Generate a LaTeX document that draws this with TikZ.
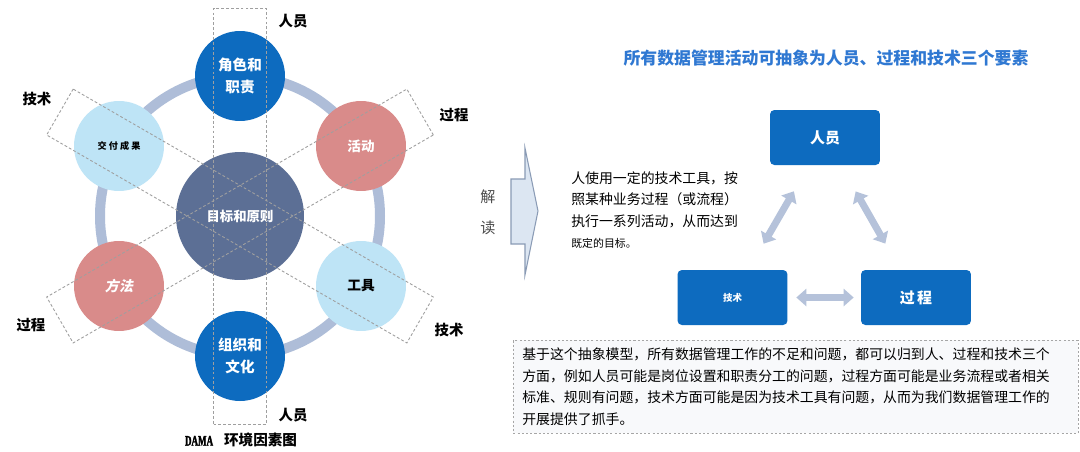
\documentclass[tikz,border=0pt]{standalone}
\usepackage{fontspec}
\setmainfont{Noto Sans CJK SC}
\newfontfamily\slantfont[FakeSlant=0.2]{Noto Sans CJK SC}
\newfontfamily\narrowserif[FakeStretch=0.62,FakeBold=2]{Liberation Serif Bold}
\usepackage{tikz}
\usetikzlibrary{positioning,calc,arrows.meta}

\definecolor{deepblue}{HTML}{0D6BBF}
\definecolor{slateblue}{HTML}{5C6F95}
\definecolor{rosered}{HTML}{D98B8A}
\definecolor{paleblue}{HTML}{BEE4F6}
\definecolor{ringgray}{HTML}{AEBDD8}
\definecolor{titleblue}{HTML}{2F78D2}
\definecolor{arrowgray}{HTML}{B5C2DA}
\definecolor{arrowfill}{HTML}{DCE6F2}
\definecolor{arrowedge}{HTML}{8A9BB5}
\definecolor{notefill}{HTML}{F8F9FB}

\newcommand{\setpt}[2]{\fontsize{#1pt}{#2pt}\selectfont}

\begin{document}
\begin{tikzpicture}[x=0.02cm, y=-0.02cm,
  ball/.style={circle, minimum size=1.8cm, inner sep=0pt, align=center, font=\bfseries\setpt{8.3}{12.5}},
  bandbox/.style={draw=gray!75, dash pattern=on 1.6pt off 1.2pt, line width=0.5pt, minimum width=1.06cm, minimum height=8.32cm, inner sep=0pt},
  tag/.style={font=\bfseries\setpt{8.2}{9}},
  rolebox/.style={fill=deepblue, rounded corners=2.5pt, minimum width=2.2cm, minimum height=1.1cm, text=white, font=\bfseries\setpt{8.5}{9}},
  twoway/.style={draw=arrowgray, line width=0.14cm, {Triangle[width=0.34cm,length=0.2cm]}-{Triangle[width=0.34cm,length=0.2cm]}}]
  \useasboundingbox[fill=white] (0,0) rectangle (1080,451);

  \coordinate (hub) at (240,216);
  \draw[ringgray, line width=0.2cm] (hub) circle (140);
  \node[ball, minimum size=2.56cm, fill=slateblue, text=white, font=\bfseries\setpt{7.6}{9}] (goal) at (hub) {目标和原则};
  \node[ball, fill=deepblue, text=white] (roles) at (240,76) {角色和\\职责};
  \node[ball, fill=rosered, text=white, font=\bfseries\setpt{7.7}{9}] (acts) at (361,146) {活动};
  \node[ball, fill=paleblue, font=\bfseries\setpt{7.8}{9}] (tools) at (361,286) {工具};
  \node[ball, fill=deepblue, text=white] (culture) at (240,356) {组织和\\文化};
  \node[ball, fill=rosered, text=white, font=\slantfont\bfseries\setpt{8}{9}] (ways) at (119,286) {方法};
  \node[ball, fill=paleblue, font=\bfseries\setpt{5.2}{6}] (deliv) at (119,146) {交\ 付\ 成\ 果};

  \node[bandbox] (bandP) at (hub) {};
  \node[bandbox, rotate=60] (bandT) at (hub) {};
  \node[bandbox, rotate=-60] (bandQ) at (hub) {};

  \node[tag] (topP) at (293,21) {人员};
  \node[tag] (botP) at (293,415) {人员};
  \node[tag] (topT) at (37,99) {技术};
  \node[tag] (botT) at (449,330) {技术};
  \node[tag] (topQ) at (454,115) {过程};
  \node[tag] (botQ) at (31,325) {过程};
  \node[font=\bfseries\setpt{8.3}{9}] (caption) at (241,440) {{\narrowserif\mdseries DAMA}\hspace{0.22cm}环境因素图};

  \node[font=\bfseries\setpt{9.6}{10}, text=titleblue] (headline) at (826,58) {所有数据管理活动可抽象为人员、过程和技术三个要素};

  \draw[fill=arrowfill, draw=arrowedge, line width=0.6pt] (511,179) -- (525,179) -- (525,148) -- (538,211) -- (525,275) -- (525,244) -- (511,244) -- cycle;
  \node[text=black!70, font=\setpt{8.6}{9}] (jie) at (488,197) {解};
  \node[text=black!70, font=\setpt{8.6}{9}] (du) at (488,228) {读};

  \node[anchor=west, align=left, inner sep=0pt, font=\setpt{7.9}{12.1}] (story) at (571,210)
    {人使用一定的技术工具，按\\照某种业务过程（或流程）\\执行一系列活动，从而达到\\{\setpt{6.2}{12.1}既定的目标。}};

  \node[rolebox] (ry) at (825,137.5) {人员};
  \node[rolebox, font=\bfseries\setpt{5.4}{6}] (js) at (732.5,297.5) {技术};
  \node[rolebox] (gc) at (916,297.5) {过\,程};
  \draw[twoway, shorten <=0.6cm, shorten >=0.6cm] (ry) -- (js);
  \draw[twoway, shorten <=0.6cm, shorten >=0.6cm] (ry) -- (gc);
  \draw[twoway, shorten <=0.17cm, shorten >=0.14cm] (js) -- (gc);

  \node[anchor=north west, fill=notefill, draw=gray!70, dash pattern=on 1.2pt off 1.2pt, line width=0.4pt,
        text width=10.94cm, inner xsep=0.18cm, minimum height=1.86cm, align=left, font=\setpt{7.9}{12.3}] (note) at (513,340)
    {基于这个抽象模型，所有数据管理工作的不足和问题，都可以归到人、过程和技术三个\\方面，例如人员可能是岗位设置和职责分工的问题，过程方面可能是业务流程或者相关\\标准、规则有问题，技术方面可能是因为技术工具有问题，从而为我们数据管理工作的\\开展提供了抓手。};
\end{tikzpicture}
\end{document}
